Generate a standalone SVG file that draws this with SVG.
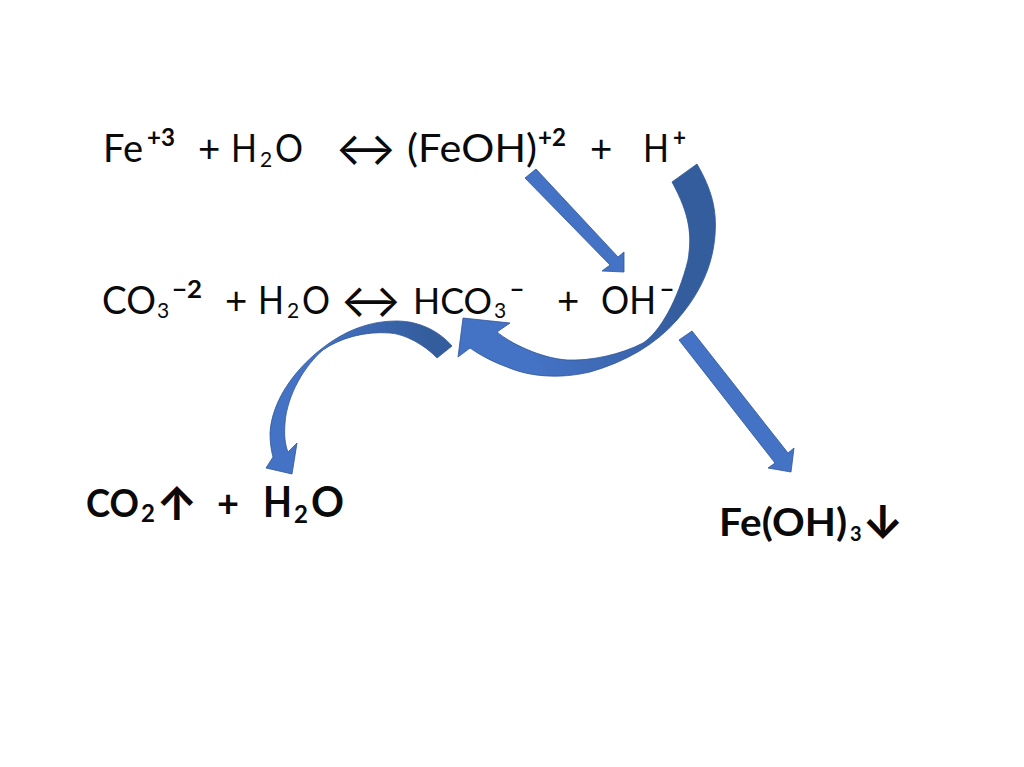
<svg xmlns="http://www.w3.org/2000/svg" width="1024" height="767" viewBox="0 0 1024 767">
<defs>
<linearGradient id="g1" gradientUnits="userSpaceOnUse" x1="670" y1="290" x2="540" y2="370"><stop offset="0" stop-color="#345d9d"/><stop offset="1" stop-color="#4472c4"/></linearGradient>
<linearGradient id="g2" gradientUnits="userSpaceOnUse" x1="430" y1="345" x2="320" y2="365"><stop offset="0" stop-color="#345d9d"/><stop offset="1" stop-color="#4472c4"/></linearGradient>
</defs>
<style>
text{font-family:Lato,"Noto Sans",sans-serif;fill:#0a0a0a}
.t{font-size:38.5px}
.s{font-size:24px;font-weight:700}
.u{font-size:21px}
.b{font-size:38px;font-weight:700}
.bh{font-size:42px;font-weight:700}
.bs{font-size:24px;font-weight:700}
.ar{font-family:Inter,sans-serif;font-size:46px}
.arb{font-family:Inter,sans-serif;font-size:46px;font-weight:700}
.a{fill:#4472c4;stroke:#2f5597;stroke-width:.8}
</style>
<rect width="1024" height="767" fill="#fff"/>
<g id="connectors">
<path class="a" d="M525 178 L536 169 L618 257 L624 252 L624 272 L602 271 L610 265 Z"/>
<path class="a" d="M679 340 L692 331 L788 453 L794 448 L791 472 L768 468 L775 463 Z"/>
<path fill="url(#g1)" stroke="#2f5597" stroke-width=".8" d="M697 164 C712 190 717 210 715 235 C713 262 703 290 677 320 C655 345 625 362 590 372 C560 379 530 377 507 367 C493 362 480 355 470 348 L458 357 L463 318 L510 323 L497 332 C510 343 540 358 567 360 C590 361 620 355 643 343 C660 332 678 300 688 260 C692 235 690 215 672 182 Z"/>
<path fill="url(#g2)" stroke="#2f5597" stroke-width=".8" d="M452 346 L437 358 C425 345 405 334 390 333 C365 331 340 338 323 350 C305 365 287 395 285 423 C284 435 285 445 288 452 L297 443 L292 474 L266 468 L273 457 C271 450 270 442 270 433 C272 400 295 370 320 350 C345 330 370 321 397 321 C420 321 440 332 452 346 Z"/>
</g>
<g id="eq1">
<text class="t" x="103" y="162" textLength="40" lengthAdjust="spacingAndGlyphs">Fe</text><text class="s" x="147" y="146" textLength="28" lengthAdjust="spacingAndGlyphs">+3</text>
<text class="t" x="198" y="162">+</text><text class="t" x="231" y="162" textLength="26" lengthAdjust="spacingAndGlyphs">H</text><text class="u" x="260" y="167">2</text><text class="t" x="275" y="162" textLength="28" lengthAdjust="spacingAndGlyphs">O</text>
<text class="ar" x="335" y="165">↔</text>
<text class="t" x="407" y="162" textLength="130" lengthAdjust="spacingAndGlyphs">(FeOH)</text><text class="s" x="538" y="146" textLength="28" lengthAdjust="spacingAndGlyphs">+2</text>
<text class="t" x="590" y="162">+</text><text class="t" x="643" y="162" textLength="26" lengthAdjust="spacingAndGlyphs">H</text><text class="s" x="673" y="146" textLength="13" lengthAdjust="spacingAndGlyphs">+</text>
</g>
<g id="eq2">
<text class="t" x="102" y="314" textLength="54" lengthAdjust="spacingAndGlyphs">CO</text><text class="u" x="157" y="318">3</text><text class="s" x="172" y="298" textLength="30" lengthAdjust="spacingAndGlyphs">−2</text>
<text class="t" x="225" y="314">+</text><text class="t" x="258" y="314" textLength="26" lengthAdjust="spacingAndGlyphs">H</text><text class="u" x="287" y="318">2</text><text class="t" x="302" y="314" textLength="28" lengthAdjust="spacingAndGlyphs">O</text>
<text class="ar" x="340" y="317">↔</text>
<text class="t" x="413" y="314" textLength="79" lengthAdjust="spacingAndGlyphs" style="font-size:36.5px">HCO</text><text class="u" x="494" y="318">3</text><text class="s" x="510" y="298" textLength="14" lengthAdjust="spacingAndGlyphs">−</text>
<text class="t" x="557" y="314">+</text><text class="t" x="601" y="314" textLength="55" lengthAdjust="spacingAndGlyphs">OH</text><text class="s" x="660" y="298" textLength="14" lengthAdjust="spacingAndGlyphs">−</text>
</g>
<g id="co2">
<text class="b" x="86" y="517" textLength="53" lengthAdjust="spacingAndGlyphs">CO</text><text class="bs" x="141" y="522">2</text><text class="arb" x="156" y="520">↑</text>
<text class="b" x="217" y="517">+</text>
<text class="bh" x="263" y="517" textLength="29" lengthAdjust="spacingAndGlyphs">H</text><text class="bs" x="294" y="523">2</text><text class="bh" x="311" y="517" textLength="33" lengthAdjust="spacingAndGlyphs">O</text>
</g>
<g id="feoh">
<text class="b" x="719" y="536" textLength="128" lengthAdjust="spacingAndGlyphs">Fe(OH)</text><text class="bs" x="850" y="541" style="font-size:20px">3</text><text class="arb" x="862" y="539">↓</text>
</g>
</svg>
